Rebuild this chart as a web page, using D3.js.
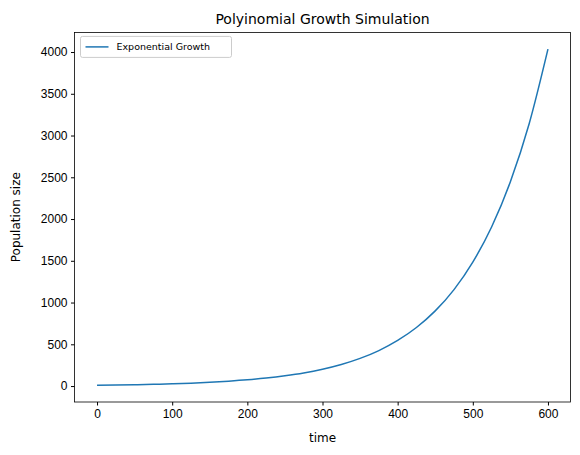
<!DOCTYPE html>
<html><head><meta charset="utf-8">
<script src="https://cdn.jsdelivr.net/npm/d3@7"></script>
<style>body{margin:0;background:#fff}svg{font-family:"DejaVu Sans",sans-serif}</style>
</head><body><svg id="c" width="580" height="455"></svg>
<script>
const times = [0,25,50,75,100,125,150,175,200,225,250,275,300,325,350,375,400,425,450,475,500,525,550,575,600];
const population = [10,13,16,21,27,35,45,58,74,95,122,156,201,258,331,425,546,701,900,1155,1484,1905,2447,3141,4034];
const xTicks = [0,100,200,300,400,500,600];
const yTicks = [0,500,1000,1500,2000,2500,3000,3500,4000];

const svg = d3.select("#c");
const L=74.5,R=570.5,T=32.4,B=402;
const x = d3.scaleLinear().domain([-30,630]).range([L,R]);
const y = d3.scaleLinear().domain([-191,4235]).range([B,T]);

svg.append("g").attr("transform",`translate(0,${B})`)
  .call(d3.axisBottom(x).tickValues(xTicks).tickSize(3.5).tickPadding(3.5).tickFormat(d3.format("d")))
  .call(g=>{g.select(".domain").remove();g.selectAll("text").attr("font-size",12).attr("fill","#000");});
svg.append("g").attr("transform",`translate(${L},0)`)
  .call(d3.axisLeft(y).tickValues(yTicks).tickSize(3.5).tickPadding(3.5).tickFormat(d3.format("d")))
  .call(g=>{g.select(".domain").remove();g.selectAll("text").attr("font-size",12).attr("fill","#000");});
svg.append("rect").attr("x",L).attr("y",T).attr("width",R-L).attr("height",B-T)
  .attr("fill","none").attr("stroke","#000").attr("stroke-width",0.8);

svg.append("path").datum(times.map((t,i)=>[t,population[i]]))
  .attr("d",d3.line().x(d=>x(d[0])).y(d=>y(d[1])).curve(d3.curveMonotoneX))
  .attr("fill","none").attr("stroke","#1f77b4").attr("stroke-width",1.5);

svg.append("text").attr("x",(L+R)/2).attr("y",24).attr("text-anchor","middle").attr("font-size",14).text("Polyinomial Growth Simulation");
svg.append("text").attr("x",(L+R)/2).attr("y",442).attr("text-anchor","middle").attr("font-size",12).text("time");
svg.append("text").attr("transform",`translate(20,${(T+B)/2}) rotate(-90)`).attr("text-anchor","middle").attr("font-size",12).text("Population size");

const lg = svg.append("g").attr("transform",`translate(${L+6},${T+4})`);
lg.append("rect").attr("width",151).attr("height",21).attr("rx",2).attr("fill","#fff").attr("stroke","#ccc");
lg.append("line").attr("x1",5).attr("x2",28).attr("y1",10.5).attr("y2",10.5).attr("stroke","#1f77b4").attr("stroke-width",1.5);
lg.append("text").attr("x",36).attr("y",14).attr("font-size",9.5).text("Exponential Growth");
</script></body></html>
